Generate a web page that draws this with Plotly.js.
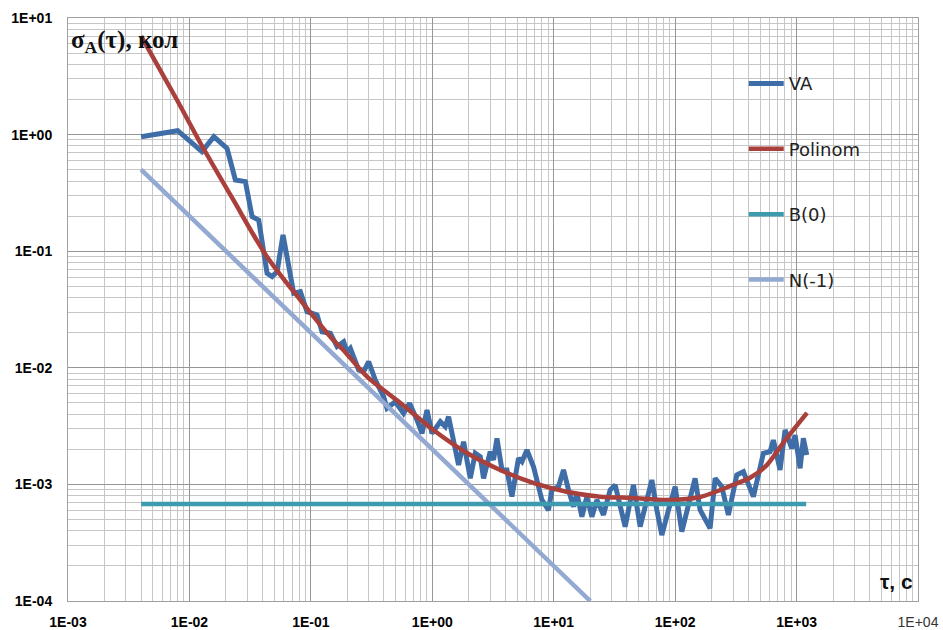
<!DOCTYPE html>
<html>
<head>
<meta charset="utf-8">
<script src="https://cdn.plot.ly/plotly-3.0.1.min.js"></script>
<style>html,body{margin:0;padding:0;background:#fff;}#chart{width:943px;height:630px;}</style>
</head>
<body>
<div id="chart"></div>
<script>
// ---- data ----
const seriesNames = ['VA', 'Polinom', 'B(0)', 'N(-1)'];

const vaTau = [0.004, 0.008, 0.0127, 0.0159, 0.0204, 0.0239, 0.0289, 0.0328, 0.0372, 0.0436,
  0.0479, 0.0527, 0.059, 0.0637, 0.0722, 0.0819, 0.093, 0.1125, 0.1237, 0.1447,
  0.1643, 0.1862, 0.1986, 0.2114, 0.2474, 0.2721, 0.299, 0.3396, 0.3973, 0.4238,
  0.4958, 0.5804, 0.6503, 0.748, 0.8226, 0.9045, 0.994, 1.164, 1.279, 1.362,
  1.497, 1.646, 1.81, 2.055, 2.259, 2.484, 2.644, 3.001, 3.195, 3.408,
  3.747, 4.12, 4.528, 5.131, 5.474, 6.017, 6.818, 7.497, 7.996, 9.06,
  9.66, 10.95, 12.04, 13.24, 14.55, 15.52, 17.07, 18.76, 20.63, 22.68,
  25.69, 29.17, 32.07, 38.76, 45.36, 51.5, 64.3, 70.7, 77.7, 88.1,
  100, 113.5, 146, 160.6, 194, 213.4, 242.2, 274.5, 321.9, 364.9,
  441, 533, 605, 644, 731, 804, 913, 972, 1069, 1137,
  1213];
const vaSigma = [0.96, 1.08, 0.714, 0.96, 0.763, 0.408, 0.395, 0.198, 0.185, 0.0646,
  0.0605, 0.0667, 0.138, 0.0841, 0.0436, 0.045, 0.0303, 0.0284, 0.0204, 0.0198,
  0.0152, 0.0167, 0.01374, 0.0147, 0.00958, 0.00926, 0.01128, 0.00786, 0.00565, 0.0045,
  0.00512, 0.00407, 0.00496, 0.00357, 0.00274, 0.00435, 0.00274, 0.00345, 0.00313, 0.00381,
  0.0024, 0.001467, 0.002324, 0.001128, 0.00185, 0.00173, 0.001128, 0.00191, 0.00162, 0.002486,
  0.00133, 0.00133, 0.000785, 0.001675, 0.001566, 0.001974, 0.001418, 0.000896, 0.000735, 0.000603,
  0.000896, 0.000956, 0.00133, 0.000896, 0.000644, 0.000839, 0.000528, 0.000785, 0.000528, 0.000735,
  0.000547, 0.000896, 0.000989, 0.000434, 0.000989, 0.000434, 0.001091, 0.000603, 0.000368, 0.000603,
  0.000956, 0.000393, 0.001128, 0.000603, 0.00042, 0.001128, 0.000956, 0.000547, 0.001204, 0.001285,
  0.000785, 0.00185, 0.00191, 0.0024, 0.00133, 0.00293, 0.00204, 0.00265, 0.001374, 0.002486,
  0.001788];

const polyTau = [0.004, 0.0079, 0.0123, 0.023, 0.0435, 0.082, 0.153, 0.185, 0.29, 0.546,
  1.02, 1.93, 3.63, 6.78, 12.8, 24.1, 45, 86, 161, 300, 414, 571, 774, 1219];
const polySigma = [7.0, 1.98, 0.847, 0.275, 0.0897, 0.0381, 0.0173, 0.0142, 0.0084, 0.00499,
  0.00293, 0.00186, 0.00133, 0.00103, 0.000865, 0.000785, 0.000764, 0.000734, 0.00078, 0.00099,
  0.00114, 0.00147, 0.00226, 0.0041];

const bTau = [0.004, 1200];
const bSigma = [0.00068, 0.00068];

const nTau = [0.004, 20];
const nSigma = [0.5, 0.0001];

const xTickVals = [0.001, 0.01, 0.1, 1, 10, 100, 1000, 10000];
const xTickLabels = ['1E-03', '1E-02', '1E-01', '1E+00', '1E+01', '1E+02', '1E+03', '1E+04'];
const yTickVals = [0.0001, 0.001, 0.01, 0.1, 1, 10];
const yTickLabels = ['1E-04', '1E-03', '1E-02', '1E-01', '1E+00', '1E+01'];

const yTitle = 'σ<sub>A</sub>(τ), кол';
const xTitle = 'τ, c';

// ---- chart ----
const colors = {VA: '#3F6DA7', Polinom: '#A9403C', B0: '#3E9AAF', N1: '#93A9D2'};

const traces = [
  {x: vaTau, y: vaSigma, name: seriesNames[0], legendgroup: 'g0', legendrank: 1,
   mode: 'lines', line: {color: colors.VA, width: 5}},
  {x: nTau, y: nSigma, name: seriesNames[3], legendgroup: 'g3', legendrank: 4,
   mode: 'lines', line: {color: colors.N1, width: 4.5}},
  {x: polyTau, y: polySigma, name: seriesNames[1], legendgroup: 'g1', legendrank: 2,
   mode: 'lines', line: {color: colors.Polinom, width: 4.5, shape: 'spline', smoothing: 0.8}},
  {x: bTau, y: bSigma, name: seriesNames[2], legendgroup: 'g2', legendrank: 3,
   mode: 'lines', line: {color: colors.B0, width: 4.5}}
];

const tickFont = {family: 'Liberation Sans, Arial, sans-serif', size: 14, color: '#000'};

const xTickText = xTickLabels.map((t, i) => i === xTickLabels.length - 1
  ? '<span style="font-weight:normal;fill:#333">' + t + '</span>' : '<b>' + t + '</b>');
const yTickText = yTickLabels.map(t => '<b>' + t + '</b>');

const gridMinor = {showgrid: true, gridcolor: '#c6c6c6', gridwidth: 1, dtick: 'D1'};

const layout = {
  width: 943, height: 630,
  margin: {l: 68, r: 25, t: 18, b: 29, pad: 0},
  paper_bgcolor: '#fff', plot_bgcolor: '#fff',
  showlegend: true,
  legend: {x: 0.795, y: 0.919, xanchor: 'left', yanchor: 'top',
    bgcolor: 'rgba(0,0,0,0)', borderwidth: 0, tracegroupgap: 39, itemwidth: 35,
    font: {family: 'DejaVu Sans, sans-serif', size: 18, color: '#222'}},
  xaxis: {type: 'log', range: [-3, 4], tickmode: 'array', tickvals: xTickVals, ticktext: xTickText,
    tickfont: tickFont, ticks: '', ticklabelstandoff: 8,
    showgrid: true, gridcolor: '#969696', gridwidth: 1, minor: gridMinor,
    showline: true, linecolor: '#a0a0a0', linewidth: 1, mirror: true, zeroline: false},
  yaxis: {type: 'log', range: [-4, 1], tickmode: 'array', tickvals: yTickVals, ticktext: yTickText,
    tickfont: tickFont, ticks: '', ticklabelstandoff: 12,
    showgrid: true, gridcolor: '#969696', gridwidth: 1, minor: gridMinor,
    showline: true, linecolor: '#a0a0a0', linewidth: 1, mirror: true, zeroline: false},
  annotations: [
    {xref: 'paper', yref: 'paper', x: 0.001, y: 0.99, xanchor: 'left', yanchor: 'top',
     text: '<b>' + yTitle + '</b>', showarrow: false,
     font: {family: 'Liberation Serif, Times New Roman, serif', size: 25, color: '#111'}},
    {xref: 'paper', yref: 'paper', x: 0.996, y: 0.01, xanchor: 'right', yanchor: 'bottom',
     text: '<b>' + xTitle + '</b>', showarrow: false,
     font: {family: 'Liberation Sans, Arial, sans-serif', size: 21, color: '#111'}}
  ]
};

Plotly.newPlot('chart', traces, layout, {staticPlot: true, displayModeBar: false});
</script>
</body>
</html>
